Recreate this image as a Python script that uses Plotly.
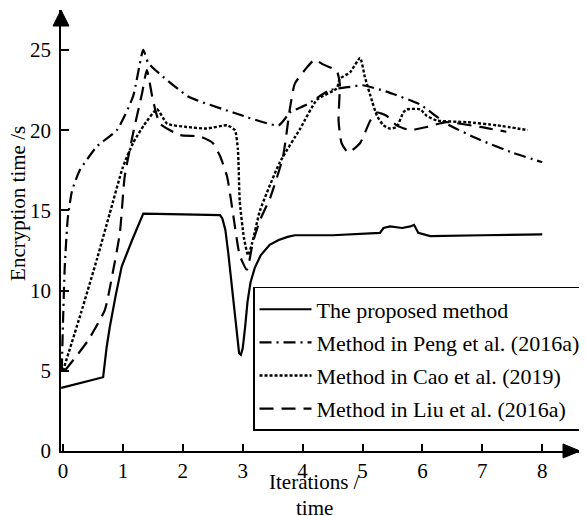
import plotly.graph_objects as go

# ---- data ----
prop_x = [-0.03, 0.67, 0.73, 0.78, 0.88, 0.98, 1.16, 1.34, 2.0, 2.62, 2.66, 2.71, 2.76, 2.82, 2.87, 2.91,
          2.94, 2.97, 3.0, 3.04, 3.08, 3.13, 3.2, 3.3, 3.45, 3.6, 3.75, 3.87, 4.5, 5.29, 5.35, 5.46, 5.6,
          5.66, 5.8, 5.86, 5.93, 6.13, 7.0, 8.0]
prop_y = [3.93, 4.6, 6.5, 7.7, 9.7, 11.5, 13.2, 14.8, 14.75, 14.7, 14.5, 13.8, 12.3, 10.2, 8.3, 6.9,
          6.1, 6.0, 6.4, 7.7, 9.3, 10.5, 11.4, 12.2, 12.85, 13.15, 13.35, 13.45, 13.45, 13.6, 13.9, 14.0,
          13.9, 13.9, 14.0, 14.1, 13.6, 13.4, 13.45, 13.5]

peng_x = [-0.02, 0.0, 0.03, 0.08, 0.15, 0.28, 0.57, 0.9, 1.17, 1.34, 1.42, 1.54, 2.09, 2.84, 3.6, 3.79,
          4.07, 4.46, 4.79, 5.0, 5.4, 5.96, 6.4, 6.96, 7.5, 8.0]
peng_y = [5.0, 8.0, 11.5, 14.5, 16.2, 17.5, 19.0, 20.0, 22.1, 25.0, 24.2, 23.75, 22.1, 21.1, 20.3, 21.1,
          21.6, 22.5, 22.7, 22.8, 22.4, 21.6, 20.4, 19.4, 18.6, 18.0]

cao_x = [0.0, 0.3, 0.57, 0.78, 1.0, 1.17, 1.35, 1.57, 1.74, 2.07, 2.4, 2.74, 2.87, 2.92, 2.95, 3.02,
         3.09, 3.16, 3.29, 3.62, 3.96, 4.24, 4.57, 4.62, 4.79, 4.96, 5.04, 5.16, 5.24, 5.35, 5.46, 5.57,
         5.68, 5.74, 5.96, 6.07, 6.24, 6.74, 7.25, 7.76]
cao_y = [5.0, 8.6, 12.0, 14.8, 17.7, 19.2, 20.3, 21.3, 20.4, 20.2, 20.1, 20.3, 20.0, 18.8, 15.6, 13.3,
         12.2, 13.0, 15.0, 18.0, 20.1, 21.9, 22.6, 23.2, 23.6, 24.5, 23.3, 21.8, 20.9, 20.3, 20.1, 20.2,
         21.1, 21.3, 21.3, 20.9, 20.6, 20.5, 20.3, 20.0]

liu_x = [0.03, 0.2, 0.42, 0.7, 0.83, 0.95, 1.03, 1.17, 1.32, 1.4, 1.5, 1.62, 1.95, 2.29, 2.5, 2.62,
         2.74, 2.85, 2.95, 3.07, 3.17, 3.29, 3.46, 3.67, 3.79, 3.87, 4.07, 4.2, 4.34, 4.57, 4.62, 4.6,
         4.65, 4.76, 4.96, 5.13, 5.24, 5.4, 5.57, 5.8, 6.07, 6.4, 6.96, 7.4]
liu_y = [5.0, 5.8, 6.9, 8.8, 11.1, 13.6, 17.1, 19.8, 22.3, 23.75, 21.9, 20.4, 19.7, 19.6, 19.2, 18.4,
         17.1, 14.5, 12.2, 11.3, 13.0, 14.4, 15.8, 18.3, 21.4, 22.9, 23.9, 24.4, 24.1, 23.7, 22.9, 20.6,
         19.2, 18.6, 19.2, 20.6, 21.1, 20.9, 20.3, 20.0, 20.2, 20.5, 20.2, 19.9]

names = ["The proposed method", "Method in Peng et al. (2016a)",
         "Method in Cao et al. (2019)", "Method in Liu et al. (2016a)"]
x_ticks = [0, 1, 2, 3, 4, 5, 6, 7, 8]
y_ticks = [0, 5, 10, 15, 20, 25]
x_title_lines = ["Iterations /", "time"]
y_title = "Encryption time /s"

FONT = "Liberation Serif"

fig = go.Figure()
series = [(prop_x, prop_y, "solid", 2.2, "linear"),
          (peng_x, peng_y, "12px,5px,2px,5px", 2.2, "spline"),
          (cao_x, cao_y, "3px,2px", 2.4, "spline"),
          (liu_x, liu_y, "14px,8px", 2.2, "spline")]
for i, ((xs, ys, dash, w, shp), nm) in enumerate(zip(series, names)):
    fig.add_trace(go.Scatter(x=xs, y=ys, mode="lines", name=nm, legendgroup=f"g{i}",
                             line=dict(color="black", width=w, dash=dash, shape=shp,
                                       smoothing=0.5 if shp == "spline" else None)))

# the page adds an 8px body margin, so the figure is 8px smaller than the window
fig.update_layout(
    width=579, height=508,
    margin=dict(l=53, r=7, t=2, b=65, autoexpand=False),
    paper_bgcolor="white", plot_bgcolor="white",
    font=dict(family=FONT, size=20, color="black"),
    showlegend=True,
    legend=dict(x=0.37, y=0.372, xanchor="left", yanchor="top",
                bgcolor="white", bordercolor="black", borderwidth=1.5,
                font=dict(family=FONT, size=22, color="black"),
                tracegroupgap=1.5, itemwidth=52),
    xaxis=dict(range=[-0.033, 8.63], tickvals=x_ticks, showgrid=False, zeroline=False,
               showline=True, linecolor="black", linewidth=1.5,
               ticks="inside", ticklen=7, tickwidth=1.5, tickcolor="black",
               tickfont=dict(family=FONT, size=21)),
    yaxis=dict(range=[0, 27.49], tickvals=y_ticks, showgrid=False, zeroline=False,
               showline=True, linecolor="black", linewidth=1.5,
               ticks="inside", ticklen=8, tickwidth=1.5, tickcolor="black",
               tickfont=dict(family=FONT, size=21), ticklabelstandoff=4),
)

# axis arrow heads
fig.add_shape(type="path", xref="paper", yref="paper", xsizemode="pixel", ysizemode="pixel",
              xanchor=0, yanchor=1, path="M0,0 L-8,-16 L8,-16 Z",
              fillcolor="black", line=dict(color="black", width=1))
fig.add_shape(type="path", xref="paper", yref="paper", xsizemode="pixel", ysizemode="pixel",
              xanchor=1, yanchor=0, path="M0,0 L-17,7 L-17,-7 Z",
              fillcolor="black", line=dict(color="black", width=1))

# axis titles
fig.add_annotation(text=x_title_lines[0], x=4.2, xref="x", y=0, yref="paper",
                   xanchor="center", yanchor="middle", yshift=-31, showarrow=False,
                   font=dict(family=FONT, size=21, color="black"))
fig.add_annotation(text=x_title_lines[1], x=4.2, xref="x", y=0, yref="paper",
                   xanchor="center", yanchor="middle", yshift=-57, showarrow=False,
                   font=dict(family=FONT, size=21, color="black"))
fig.add_annotation(text=y_title, x=0, xref="paper", xshift=-43, y=15.4, yref="y",
                   xanchor="center", yanchor="middle", textangle=-90, showarrow=False,
                   font=dict(family=FONT, size=21, color="black"))

fig.write_html("out.html")
